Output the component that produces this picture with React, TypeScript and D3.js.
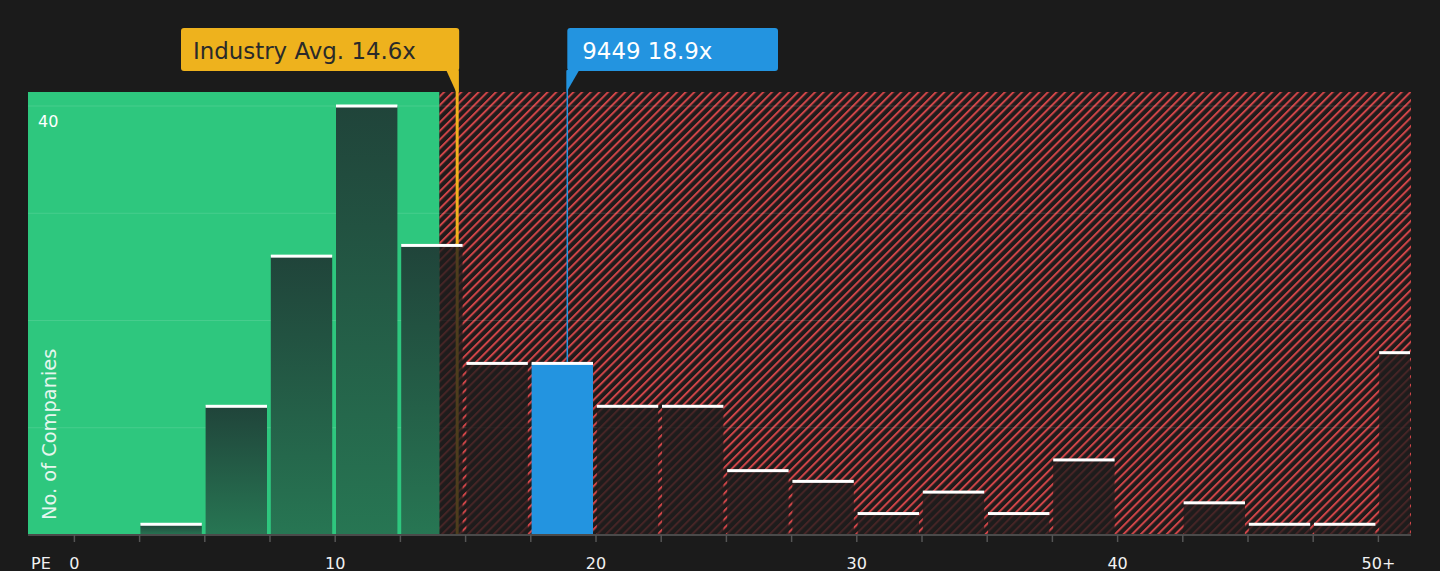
import * as React from "react";
import * as d3 from "d3";

// histogram bins (lower edge, PE) and company counts
const binStarts = [0, 2.5, 5, 7.5, 10, 12.5, 15, 17.5, 20, 22.5, 25, 27.5, 30, 32.5, 35, 37.5, 40, 42.5, 45, 47.5, 50];
const counts = [0, 1, 12, 26, 40, 27, 16, 16, 12, 12, 6, 5, 2, 4, 2, 7, 0, 3, 1, 1, 17];
const xTickValues = [0, 10, 20, 30, 40, 50];
const xTickLabels = ["0", "10", "20", "30", "40", "50+"];
const yGridValues = [10, 20, 30, 40];

const industryAvg = 14.6;
const companyPE = 18.9;
const companyName = "9449";
const fairLimit = 14.0; // end of green zone

const W = 1440;
const H = 571;
const FONT = "'DejaVu Sans', sans-serif";

export default function App() {
  const ref = React.useRef<SVGSVGElement | null>(null);

  React.useEffect(() => {
    if (!ref.current) return;
    const svg = d3.select(ref.current);
    svg.selectAll("*").remove();

    const left = 28;
    const right = 1411;
    const top = 92;
    const bottom = 535;
    const binW = 2.5;

    const x = d3.scaleLinear().domain([0, 50]).range([74.4, 1378.4]);
    const y = d3.scaleLinear().domain([0, 40]).range([bottom, 106]);
    const greenEnd = x(fairLimit);

    svg.append("rect").attr("width", W).attr("height", H).attr("fill", "#1b1b1b");

    const defs = svg.append("defs");
    const hatch = defs
      .append("pattern")
      .attr("id", "hatch")
      .attr("patternUnits", "userSpaceOnUse")
      .attr("width", 6.1)
      .attr("height", 6.1)
      .attr("patternTransform", "rotate(45)");
    hatch.append("rect").attr("width", 6.1).attr("height", 6.1).attr("fill", "#1f1b1b");
    hatch.append("line").attr("x1", 1).attr("x2", 1).attr("y1", 0).attr("y2", 6.1).attr("stroke", "#cf4548").attr("stroke-width", 2);

    const grad = defs.append("linearGradient").attr("id", "barGreen").attr("x1", 0).attr("x2", 0).attr("y1", 0).attr("y2", 1);
    grad.append("stop").attr("offset", "0%").attr("stop-color", "#20443a");
    grad.append("stop").attr("offset", "100%").attr("stop-color", "#277653");

    defs.append("clipPath").attr("id", "clipGreen").append("rect").attr("x", left).attr("y", 0).attr("width", greenEnd - left).attr("height", H);
    defs.append("clipPath").attr("id", "clipRed").append("rect").attr("x", greenEnd).attr("y", 0).attr("width", right - greenEnd).attr("height", H);

    // zones
    svg.append("rect").attr("x", left).attr("y", top).attr("width", greenEnd - left).attr("height", bottom - top).attr("fill", "#2ec77e");
    svg.append("rect").attr("x", greenEnd).attr("y", top).attr("width", right - greenEnd).attr("height", bottom - top).attr("fill", "url(#hatch)");

    // grid
    yGridValues.forEach((v) => {
      svg.append("line")
        .attr("x1", left).attr("x2", right)
        .attr("y1", y(v)).attr("y2", y(v))
        .attr("stroke", "#ffffff").attr("stroke-opacity", 0.12).attr("stroke-width", 1);
    });

    // industry avg line (under the bars)
    const ax = x(industryAvg) + 2;
    svg.append("line").attr("x1", ax).attr("x2", ax).attr("y1", 71).attr("y2", bottom).attr("stroke", "#f0b21d").attr("stroke-width", 3);

    // bars
    binStarts.forEach((b, i) => {
      const c = counts[i];
      if (!c) return;
      const x0 = x(b) + 0.8;
      const x1 = i === binStarts.length - 1 ? right - 1 : x(b + binW) - 3;
      const yt = y(c);
      const isCompany = companyPE >= b && companyPE < b + binW;
      if (isCompany) {
        svg.append("rect").attr("x", x0).attr("y", yt).attr("width", x1 - x0).attr("height", bottom - yt).attr("fill", "#2394e0");
      } else {
        svg.append("rect").attr("x", x0).attr("y", yt).attr("width", x1 - x0).attr("height", bottom - yt)
          .attr("fill", "url(#barGreen)").attr("clip-path", "url(#clipGreen)");
        svg.append("rect").attr("x", x0).attr("y", yt).attr("width", x1 - x0).attr("height", bottom - yt)
          .attr("fill", "#1f1c1c").attr("fill-opacity", 0.78).attr("clip-path", "url(#clipRed)");
      }
      svg.append("rect").attr("x", x0).attr("y", yt - 1.5).attr("width", x1 - x0).attr("height", 3).attr("fill", "#ffffff");
    });

    // company line
    const cx = x(companyPE);
    const companyCount = counts[binStarts.findIndex((b) => companyPE >= b && companyPE < b + binW)];
    svg.append("line").attr("x1", cx).attr("x2", cx).attr("y1", 71).attr("y2", y(companyCount) - 1.5).attr("stroke", "#2394e0").attr("stroke-width", 1.5);

    // x axis
    svg.append("line").attr("x1", left).attr("x2", right).attr("y1", bottom).attr("y2", bottom).attr("stroke", "#4a4a4a").attr("stroke-width", 2);
    d3.range(0, 50.01, binW).forEach((t) => {
      svg.append("line").attr("x1", x(t)).attr("x2", x(t)).attr("y1", bottom).attr("y2", bottom + 7).attr("stroke", "#555555").attr("stroke-width", 1.5);
    });
    xTickValues.forEach((t, i) => {
      svg.append("text").text(xTickLabels[i]).attr("x", x(t)).attr("y", 568.5).attr("text-anchor", "middle")
        .attr("font-family", FONT).attr("font-size", 16).attr("fill", "#f2f2f2");
    });
    svg.append("text").text("PE").attr("x", 31).attr("y", 568.5).attr("font-family", FONT).attr("font-size", 16).attr("fill", "#f2f2f2");

    // y labels
    svg.append("text").text("40").attr("x", 38).attr("y", y(40) + 21).attr("font-family", FONT).attr("font-size", 16).attr("fill", "#ffffff");
    svg.append("text").text("No. of Companies").attr("transform", `translate(55.5,520) rotate(-90)`)
      .attr("font-family", FONT).attr("font-size", 19.4).attr("fill", "#e6f6ee");

    // industry avg callout
    svg.append("rect").attr("x", 181).attr("y", 28).attr("width", ax + 2 - 181).attr("height", 43).attr("rx", 3).attr("fill", "#eeb21d");
    svg.append("path").attr("d", `M${ax - 11},70 L${ax + 1.5},70 L${ax + 1.5},${top} L${ax - 1},${top} Z`).attr("fill", "#eeb21d");
    svg.append("text").text(`Industry Avg. ${industryAvg}x`).attr("x", 193).attr("y", 58.5)
      .attr("font-family", FONT).attr("font-size", 22.9).attr("fill", "#2a2a2a");

    // company callout
    svg.append("rect").attr("x", cx).attr("y", 28).attr("width", 778 - cx).attr("height", 43).attr("rx", 3).attr("fill", "#2394e0");
    svg.append("path").attr("d", `M${cx - 0.75},70 L${cx + 12},70 L${cx - 0.75},${top} Z`).attr("fill", "#2394e0");
    svg.append("text").text(`${companyName} ${companyPE}x`).attr("x", cx + 15).attr("y", 58.5)
      .attr("font-family", FONT).attr("font-size", 22.9).attr("fill", "#ffffff");
  }, []);

  return <svg ref={ref} width={W} height={H} style={{ position: "fixed", left: 0, top: 0, display: "block" }} />;
}
